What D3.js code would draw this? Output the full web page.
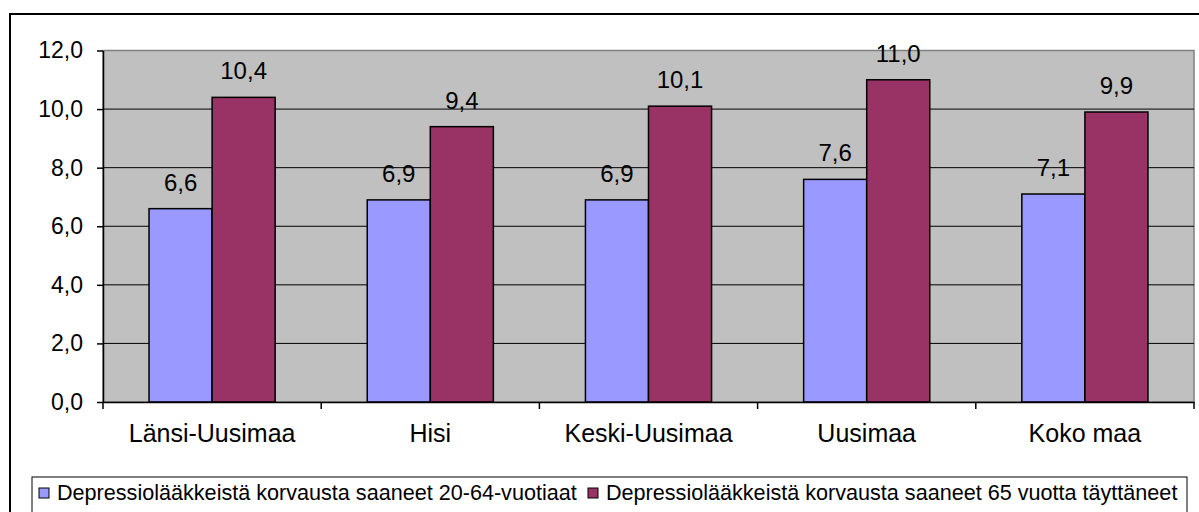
<!DOCTYPE html>
<html>
<head>
<meta charset="utf-8">
<script src="https://cdn.jsdelivr.net/npm/d3@7"></script>
<style>
  body { margin: 0; background: #fff; }
  svg { display: block; font-family: "Liberation Sans", Arial, sans-serif; }
</style>
</head>
<body>
<div id="chart"></div>
<script>
const categories = ["Länsi-Uusimaa", "Hisi", "Keski-Uusimaa", "Uusimaa", "Koko maa"];
const series = ["Depressiolääkkeistä korvausta saaneet 20-64-vuotiaat", "Depressiolääkkeistä korvausta saaneet 65 vuotta täyttäneet"];
const young = [6.6, 6.9, 6.9, 7.6, 7.1];
const old = [10.4, 9.4, 10.1, 11.0, 9.9];
const yTicks = [0, 2, 4, 6, 8, 10, 12];

const width = 1199;
const height = 512;
const colors = ["#9999FF", "#993366"];
const fmt = (v) => d3.format(".1f")(v).replace(".", ",");

const svg = d3.select("#chart").append("svg")
  .attr("width", width)
  .attr("height", height);

// outer frame
svg.append("rect")
  .attr("x", 10).attr("y", 14)
  .attr("width", 1200).attr("height", 520)
  .attr("fill", "#fff")
  .attr("stroke", "#000")
  .attr("stroke-width", 2);

const plot = { left: 103, right: 1194, top: 50.5, bottom: 402 };

const x = d3.scaleBand()
  .domain(categories)
  .range([plot.left, plot.right]);

const xSub = d3.scaleBand()
  .domain([0, 1])
  .range([0, x.bandwidth()])
  .paddingOuter(0.73);

const y = d3.scaleLinear()
  .domain([0, 12])
  .range([plot.bottom, plot.top]);

// plot background
svg.append("rect")
  .attr("x", plot.left).attr("y", plot.top)
  .attr("width", plot.right - plot.left)
  .attr("height", plot.bottom - plot.top)
  .attr("fill", "#C0C0C0")
  .attr("stroke", "#808080")
  .attr("stroke-width", 1.5);

// gridlines
svg.append("g")
  .selectAll("line")
  .data(yTicks.slice(1, -1))
  .enter()
  .append("line")
  .attr("x1", plot.left).attr("x2", plot.right)
  .attr("y1", (d) => y(d)).attr("y2", (d) => y(d))
  .attr("stroke", "#000")
  .attr("stroke-width", 1);

// bars
const rows = categories.map((c, i) => ({ cat: c, vals: [young[i], old[i]] }));
const groups = svg.append("g")
  .selectAll("g")
  .data(rows)
  .enter()
  .append("g")
  .attr("transform", (d) => `translate(${x(d.cat)},0)`);

groups.selectAll("rect")
  .data((d) => d.vals.map((v, j) => ({ v, j })))
  .enter()
  .append("rect")
  .attr("x", (d) => xSub(d.j))
  .attr("y", (d) => y(d.v))
  .attr("width", xSub.bandwidth())
  .attr("height", (d) => y(0) - y(d.v))
  .attr("fill", (d) => colors[d.j])
  .attr("stroke", "#000")
  .attr("stroke-width", 1.5);

groups.selectAll("text")
  .data((d) => d.vals.map((v, j) => ({ v, j })))
  .enter()
  .append("text")
  .attr("x", (d) => xSub(d.j) + xSub.bandwidth() / 2)
  .attr("y", (d) => y(d.v) - 18)
  .attr("text-anchor", "middle")
  .style("font-size", "24px")
  .text((d) => fmt(d.v));

// y axis
const yAxis = svg.append("g")
  .attr("transform", `translate(${plot.left},0)`)
  .call(d3.axisLeft(y).tickValues(yTicks).tickFormat(fmt).tickSize(6).tickSizeOuter(0).tickPadding(14));
yAxis.selectAll("text").style("font-size", "23px").attr("fill", "#000").attr("dy", "0.32em");
yAxis.selectAll("line, path").attr("stroke", "#000").attr("stroke-width", 1.5);

// x axis
const xAxis = svg.append("g")
  .attr("transform", `translate(0,${plot.bottom})`)
  .call(d3.axisBottom(x).tickSize(0).tickSizeOuter(0).tickPadding(22));
xAxis.selectAll("text").style("font-size", "25px").attr("fill", "#000");
xAxis.select("path").attr("stroke", "#000").attr("stroke-width", 1.5);
xAxis.selectAll(".bound")
  .data(categories.map((c) => x(c)).concat([x.range()[1]]))
  .enter()
  .append("line")
  .attr("class", "bound")
  .attr("x1", (d) => d).attr("x2", (d) => d)
  .attr("y1", 0).attr("y2", 7)
  .attr("stroke", "#000")
  .attr("stroke-width", 1.5);

// legend
svg.append("rect")
  .attr("x", 32).attr("y", 477)
  .attr("width", 1155).attr("height", 60)
  .attr("fill", "#fff")
  .attr("stroke", "#000")
  .attr("stroke-width", 1);

const legendX = [39, 588];
const legend = svg.append("g")
  .selectAll("g")
  .data(series)
  .enter()
  .append("g")
  .attr("transform", (d, i) => `translate(${legendX[i]},488)`);
legend.append("rect")
  .attr("width", 10).attr("height", 10)
  .attr("fill", (d, i) => colors[i])
  .attr("stroke", "#000")
  .attr("stroke-width", 1);
legend.append("text")
  .attr("x", 18).attr("y", 12)
  .style("font-size", "21.6px")
  .text((d) => d);
</script>
</body>
</html>
